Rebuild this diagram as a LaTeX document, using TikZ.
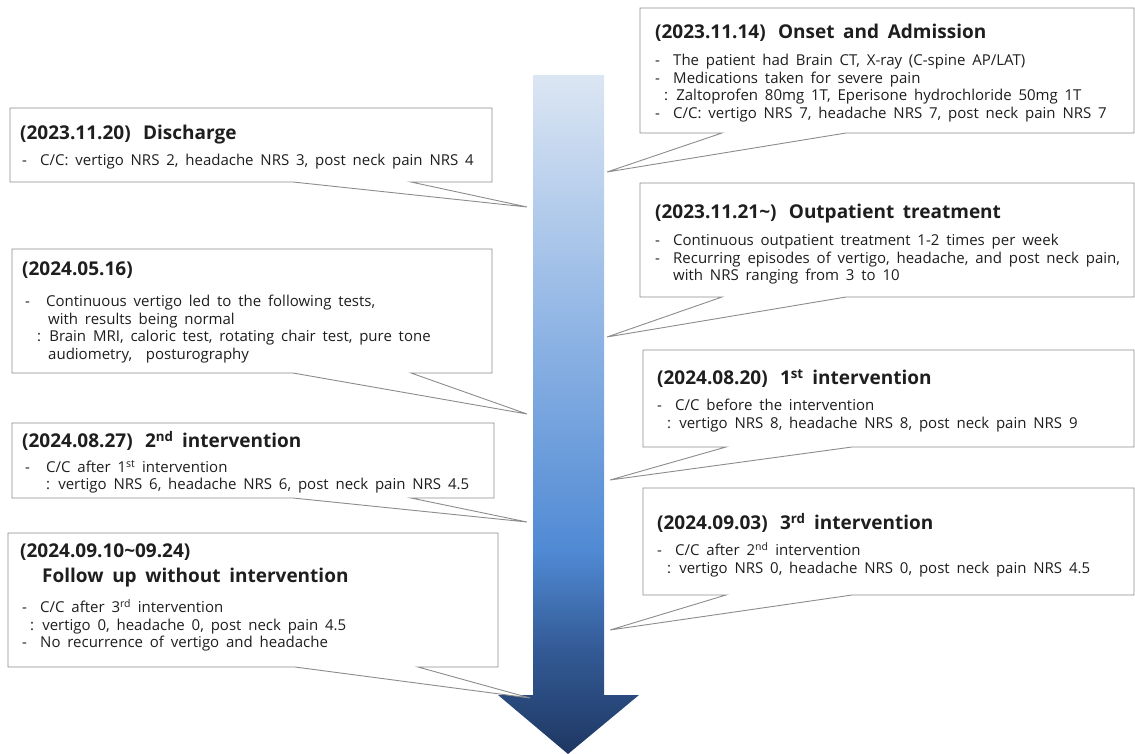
\documentclass[tikz,border=0pt]{standalone}
\usepackage{fontspec}
\setmainfont{Open Sans}[WordSpace={1.75,1,1}]

% colours of the timeline arrow and the call-out boxes
\definecolor{arrL}{RGB}{220,230,243}
\definecolor{arrL2}{RGB}{150,185,230}
\definecolor{arrM}{RGB}{80,138,212}
\definecolor{arrM2}{RGB}{52,92,152}
\definecolor{arrD}{RGB}{30,55,98}
\definecolor{boxline}{RGB}{140,140,140}
\definecolor{ink}{RGB}{30,30,30}

% vertical gradient: dark at the tip, light at the top
\pgfdeclareverticalshading{timeline}{100bp}{%
  color(0bp)=(arrD); color(25bp)=(arrD); color(33bp)=(arrM2);
  color(40bp)=(arrM); color(58bp)=(arrL2); color(75bp)=(arrL);
  color(100bp)=(arrL)}

% a rectangle with a wedge-shaped tail pointing at the timeline
% #1,#2 = top-left   #3,#4 = bottom-right   #5,#6 = tail base x   #7 = tail tip
\newcommand\calloutshape[7]{%
  \draw[calloutline] (#1,#2) -- (#3,#2) -- (#3,#4) -- (#6,#4) -- (#7)
    -- (#5,#4) -- (#1,#4) -- cycle;}
\newcommand\dashline[1]{\makebox[18pt][l]{-}#1}
% gap between the date and the heading
\newcommand\dategap{\hspace{0.65em}}

\begin{document}
\begin{tikzpicture}[x=1pt,y=-1pt,
  calloutline/.style={draw=boxline,line width=0.9pt,fill=white,line join=miter},
  titletext/.style={anchor=north west,inner sep=0pt,align=left,text=ink,
    font=\fontsize{19}{25}\selectfont\bfseries},
  bodytext/.style={anchor=north west,inner sep=0pt,align=left,text=ink,
    font=\fontsize{15}{17.6}\selectfont}]
\useasboundingbox (0,0) rectangle (1135,754);

% timeline arrow
\shade[shading=timeline] (533,75) -- (604,75) -- (604,695) -- (639,695)
  -- (568,754) -- (498,695) -- (533,695) -- cycle;

% points on the timeline that the call-outs aim at
\coordinate (tOnset) at (607,172);
\coordinate (tOut)   at (607,337);
\coordinate (tFirst) at (610,480);
\coordinate (tThird) at (610,630);
\coordinate (tDis)   at (527,207);
\coordinate (tTests) at (527,414);
\coordinate (tSecond) at (527,522);
\coordinate (tFollow) at (530,698);

% right-hand call-outs
\calloutshape{640}{8}{1134}{133}{722}{846}{tOnset}
\node[titletext] (onsetT) at (655,24) {(2023.11.14)\dategap Onset and Admission};
\node[bodytext] (onsetB) at (655,54) {%
  \dashline{The patient had Brain CT, X-ray (C-spine AP/LAT)}\\
  \dashline{Medications taken for severe pain}\\
  \hspace*{9pt}: Zaltoprofen 80mg 1T, Eperisone hydrochloride 50mg 1T\\
  \dashline{C/C: vertigo NRS 7, headache NRS 7, post neck pain NRS 7}};

\calloutshape{640}{183}{1134}{297}{722}{846}{tOut}
\node[titletext] (outT) at (655,204) {(2023.11.21\textasciitilde)\dategap Outpatient treatment};
\node[bodytext] (outB) at (655,234) {%
  \dashline{Continuous outpatient treatment 1-2 times per week}\\
  \dashline{Recurring episodes of vertigo, headache, and post neck pain,}\\
  \hspace*{18pt}with NRS ranging from 3 to 10};

\calloutshape{643}{350}{1134}{447}{726}{852}{tFirst}
\node[titletext] (firstT) at (657,369) {(2024.08.20)\dategap 1\textsuperscript{st} intervention};
\node[bodytext] (firstB) at (657,399) {%
  \dashline{C/C before the intervention}\\
  \hspace*{10pt}: vertigo NRS 8, headache NRS 8, post neck pain NRS 9};

\calloutshape{643}{488}{1134}{595}{726}{852}{tThird}
\node[titletext] (thirdT) at (657,513) {(2024.09.03)\dategap 3\textsuperscript{rd} intervention};
\node[bodytext] (thirdB) at (657,542) {%
  \dashline{C/C after 2\textsuperscript{nd} intervention}\\
  \hspace*{10pt}: vertigo NRS 0, headache NRS 0, post neck pain NRS 4.5};

% left-hand call-outs
\calloutshape{10}{108}{492}{182}{293}{411}{tDis}
\node[titletext] (disT) at (20,125) {(2023.11.20)\dategap Discharge};
\node[bodytext] (disB) at (22,154) {%
  \dashline{C/C: vertigo NRS 2, headache NRS 3, post neck pain NRS 4}};

\calloutshape{12}{249}{492}{373}{293}{411}{tTests}
\node[titletext] (testsT) at (22,262) {(2024.05.16)};
\node[bodytext] (testsB) at (25,295) {%
  \makebox[21pt][l]{-}Continuous vertigo led to the following tests,\\
  \hspace*{23pt}with results being normal\\
  \hspace*{12pt}: Brain MRI, caloric test, rotating chair test, pure tone\\
  \hspace*{23pt}audiometry,\ \ posturography};

\calloutshape{12}{423}{494}{498}{293}{411}{tSecond}
\node[titletext] (secondT) at (22,431) {(2024.08.27)\dategap 2\textsuperscript{nd} intervention};
\node[bodytext] (secondB) at (25,460) {%
  \makebox[21pt][l]{-}C/C after 1\textsuperscript{st} intervention\\
  \hspace*{21pt}: vertigo NRS 6, headache NRS 6, post neck pain NRS 4.5};

\calloutshape{8}{533}{498}{667}{295}{418}{tFollow}
\node[titletext] (followT) at (20,544) {(2024.09.10\textasciitilde09.24)\\
  \hspace*{22pt}Follow up without intervention};
\node[bodytext] (followB) at (22,599) {%
  \dashline{C/C after 3\textsuperscript{rd} intervention}\\
  \hspace*{8pt}: vertigo 0, headache 0, post neck pain 4.5\\
  \dashline{No recurrence of vertigo and headache}};
\end{tikzpicture}
\end{document}
